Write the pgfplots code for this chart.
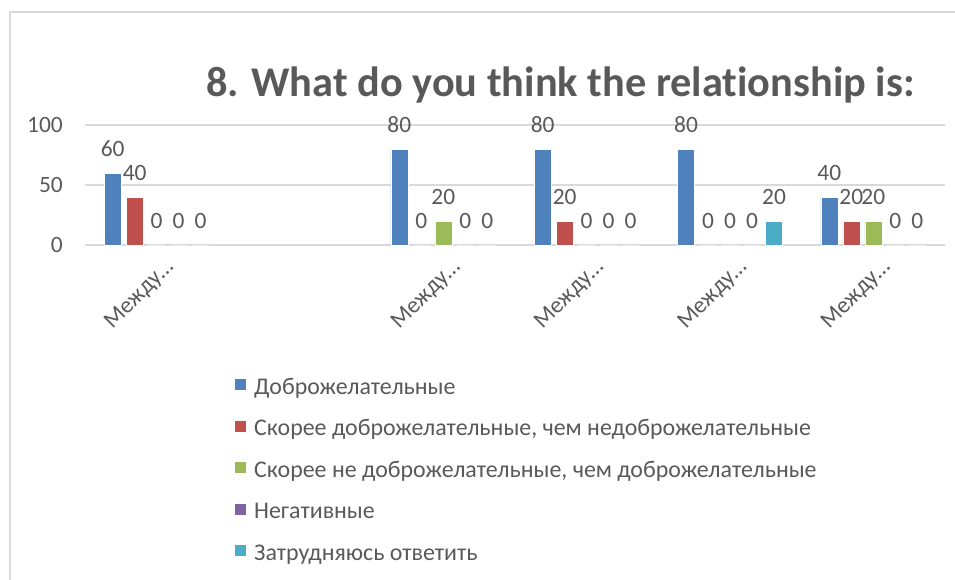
\documentclass[border=0pt]{standalone}
\usepackage{fontspec}
\setmainfont{Carlito}[Ligatures=CommonOff]
\usepackage{pgfplots}
\pgfplotsset{compat=1.18}
\definecolor{txt}{HTML}{595959}
\definecolor{grd}{HTML}{D9D9D9}
\definecolor{c1}{HTML}{4F81BD}
\definecolor{c2}{HTML}{C0504D}
\definecolor{c3}{HTML}{9BBB59}
\definecolor{c4}{HTML}{8064A2}
\definecolor{c5}{HTML}{4BACC6}
\newcommand{\fs}{\fontsize{23.5}{28}\selectfont}
\newcommand{\fl}{\fontsize{24}{29}\selectfont}
\begin{document}
\begin{tikzpicture}
\useasboundingbox (-85bp,-335bp) rectangle (870bp,245bp);
\draw[grd, line width=1.2bp] (-75bp,-400bp) -- (-75bp,233bp) -- (900bp,233bp);
\node[anchor=base east, text=txt, font=\fontsize{42.5}{50}\selectfont\bfseries] at (833bp,148bp) {8. What do you think the relationship is:};
\begin{axis}[
  at={(0,0)}, anchor=south west,
  scale only axis, width=860bp, height=120bp,
  xmin=-0.5, xmax=5.5, ymin=0, ymax=100,
  ybar=5bp, bar width=17bp,
  axis line style={draw=none},
  major tick length=0pt,
  ytick={0,50,100},
  ymajorgrids, grid style={grd, line width=1.4bp},
  xtick={0,2,3,4,5},
  xticklabels={Между…,Между…,Между…,Между…,Между…},
  /pgf/number format/assume math mode=true,
  tick label style={font=\fs, text=txt},
  yticklabel style={inner sep=0pt, xshift=-22bp},
  xticklabel style={anchor=north east, inner sep=0pt, xshift=7bp, yshift=-12bp, rotate=45},
  nodes near coords,
  nodes near coords style={font=\fs, text=txt, inner sep=0pt, anchor=south, yshift=16bp},
  legend style={at={(0.1744,-1.115)}, anchor=north west, draw=none, fill=none, font=\fl, text=txt,
    inner sep=0pt, row sep=22.5bp, nodes={inner sep=0pt, text height=14bp, text depth=4bp},
    /tikz/every odd column/.append style={column sep=8bp}},
  legend cell align=left,
  legend image code/.code={\fill[#1,draw=none] (0bp,-1bp) rectangle (11bp,10bp);},
]
\addplot[fill=c1, draw=white, line width=0.4bp] coordinates {(0,60) (2,80) (3,80) (4,80) (5,40)};
\addplot[fill=c2, draw=white, line width=0.4bp] coordinates {(0,40) (2,0) (3,20) (4,0) (5,20)};
\addplot[fill=c3, draw=white, line width=0.4bp] coordinates {(0,0) (2,20) (3,0) (4,0) (5,20)};
\addplot[fill=c4, draw=white, line width=0.4bp] coordinates {(0,0) (2,0) (3,0) (4,0) (5,0)};
\addplot[fill=c5, draw=white, line width=0.4bp] coordinates {(0,0) (2,0) (3,0) (4,20) (5,0)};
\legend{Доброжелательные, {Скорее доброжелательные, чем недоброжелательные}, {Скорее не доброжелательные, чем доброжелательные}, Негативные, Затрудняюсь ответить}
\end{axis}
\end{tikzpicture}
\end{document}
